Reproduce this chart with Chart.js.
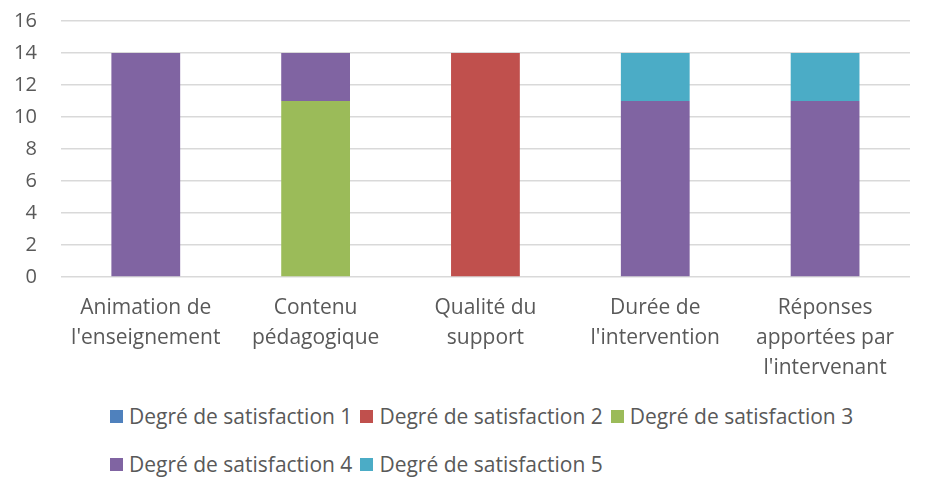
<!DOCTYPE html>
<html>
<head>
<meta charset="utf-8">
<script src="https://cdn.jsdelivr.net/npm/chart.js@4"></script>
<style>
    body { margin: 0; background: #fff; font-family: "Open Sans", sans-serif; }
    #wrap { position: relative; width: 927px; height: 491px; }
    #chartBox { position: absolute; left: 0; top: 0; width: 927px; height: 391px; }
    #legend { position: absolute; left: 110px; top: 402px; width: 800px; display: flex; flex-wrap: wrap; row-gap: 19px; color: #595959; font-size: 21px; }
    .item { display: flex; align-items: center; margin-right: 8px; line-height: 29px; }
    .box { width: 13px; height: 13px; margin-right: 6px; }
</style>
</head>
<body>
<div id="wrap">
    <div id="chartBox"><canvas id="chart"></canvas></div>
    <div id="legend"></div>
</div>
<script>
var categories = [
    ["Animation de", "l'enseignement"],
    ["Contenu", "pédagogique"],
    ["Qualité du", "support"],
    ["Durée de", "l'intervention"],
    ["Réponses", "apportées par", "l'intervenant"]
];
var seriesNames = ["Degré de satisfaction 1", "Degré de satisfaction 2", "Degré de satisfaction 3", "Degré de satisfaction 4", "Degré de satisfaction 5"];
var satisfaction1 = [0, 0, 0, 0, 0];
var satisfaction2 = [0, 0, 14, 0, 0];
var satisfaction3 = [0, 11, 0, 0, 0];
var satisfaction4 = [14, 3, 0, 11, 11];
var satisfaction5 = [0, 0, 0, 3, 3];
var colors = ["#4F81BD", "#C0504D", "#9BBB59", "#8064A2", "#4BACC6"];

var allValues = [satisfaction1, satisfaction2, satisfaction3, satisfaction4, satisfaction5];
var datasets = [];
for (var i = 0; i < allValues.length; i++) {
    datasets.push({
        label: seriesNames[i],
        data: allValues[i],
        backgroundColor: colors[i],
        barPercentage: 0.81,
        categoryPercentage: 0.5
    });
}

new Chart(document.getElementById("chart"), {
    type: "bar",
    data: { labels: categories, datasets: datasets },
    options: {
        responsive: true,
        maintainAspectRatio: false,
        animation: false,
        layout: { padding: { left: 11, right: 17, top: 21, bottom: 0 } },
        plugins: { legend: { display: false }, tooltip: { enabled: false } },
        scales: {
            x: {
                stacked: true,
                grid: { display: false },
                border: { display: false },
                ticks: { color: "#595959", font: { family: "Open Sans", size: 21, lineHeight: 1.43 }, maxRotation: 0, padding: 8 }
            },
            y: {
                stacked: true,
                min: 0,
                max: 16,
                grid: { color: "#d9d9d9", lineWidth: 1.5, drawTicks: true, tickLength: 21, tickColor: "rgba(0,0,0,0)" },
                border: { display: false },
                ticks: { stepSize: 2, color: "#595959", font: { family: "Open Sans", size: 20 }, padding: 3 }
            }
        }
    }
});

var legend = document.getElementById("legend");
for (var j = 0; j < seriesNames.length; j++) {
    var item = document.createElement("div");
    item.className = "item";
    item.innerHTML = '<span class="box" style="background:' + colors[j] + '"></span>' + seriesNames[j];
    legend.appendChild(item);
}
</script>
</body>
</html>
